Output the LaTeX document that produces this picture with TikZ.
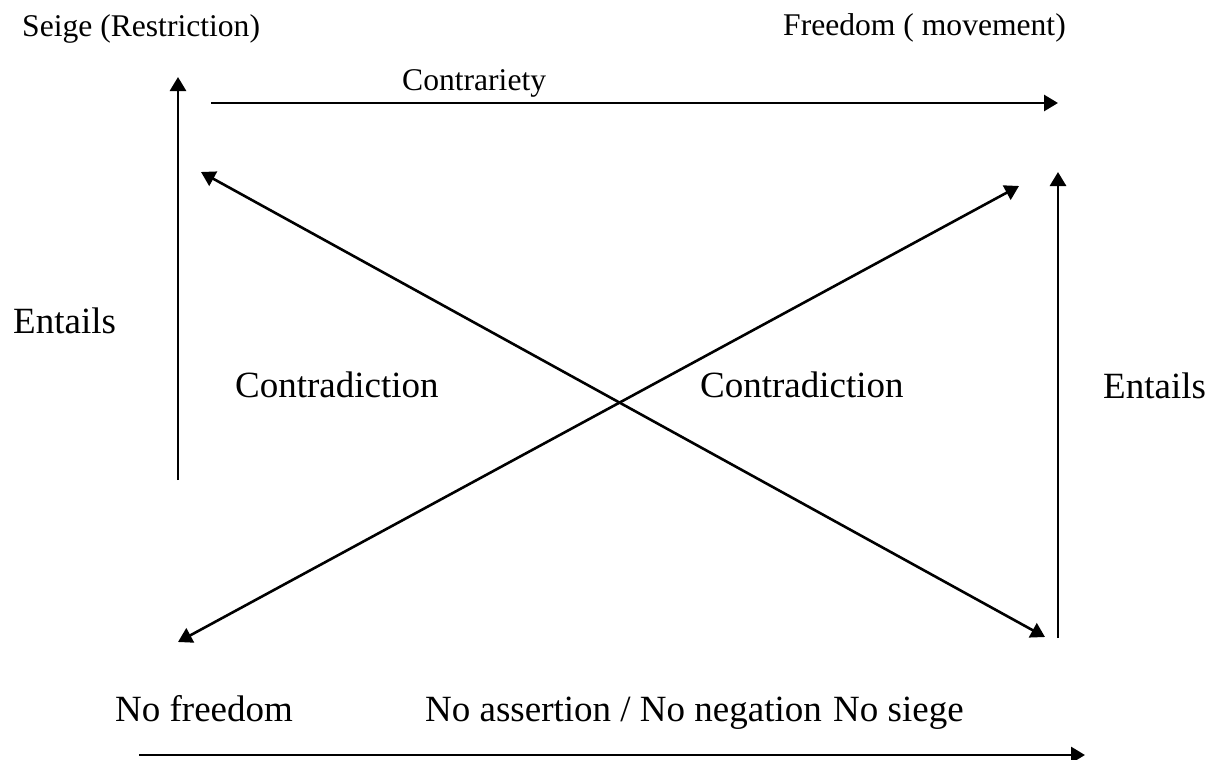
\documentclass[tikz,border=0pt]{standalone}
\usepackage{fontspec}
\setmainfont{Liberation Serif}
\usetikzlibrary{arrows.meta}
\tikzset{
  arr/.style={line width=2.8pt, -{Triangle[length=14pt,width=16pt]}},
  darr/.style={line width=2.6pt, {Triangle[length=14pt,width=16pt]}-{Triangle[length=14pt,width=16pt]}},
  smalltxt/.style={anchor=base west, inner sep=0pt, font=\fontsize{31.6}{38}\selectfont},
  bigtxt/.style={anchor=base west, inner sep=0pt, font=\fontsize{37}{44}\selectfont}
}
\begin{document}
\begin{tikzpicture}[x=1pt,y=-1pt]
\useasboundingbox[fill=white] (0,0) rectangle (1221,760);
% texts
\node[smalltxt] (seige) at (22,37) {Seige (Restriction)};
\node[smalltxt] (freedom) at (783,36) {Freedom ( movement)};
\node[smalltxt] (contrariety) at (402,90) {Contrariety};
\node[bigtxt] (entL) at (13,333) {Entails};
\node[bigtxt] (entR) at (1103,398) {Entails};
\node[bigtxt] (contrL) at (235,397) {Contradiction};
\node[bigtxt] (contrR) at (700,397) {Contradiction};
\node[bigtxt] (nofree) at (115,721) {No freedom};
\node[bigtxt] (noass) at (425,721) {No assertion / No negation};
\node[bigtxt] (nosiege) at (833,721) {No siege};
% coordinates
\coordinate (LVb) at (178,480);
\coordinate (LVt) at (178,77);
\coordinate (Ts) at (211,103);
\coordinate (Te) at (1058,103);
\coordinate (RVb) at (1058,638);
\coordinate (RVt) at (1058,172);
\coordinate (D1a) at (201,172);
\coordinate (D1b) at (1045,637);
\coordinate (D2a) at (178,642);
\coordinate (D2b) at (1019,186);
\coordinate (Bs) at (139,755);
\coordinate (Be) at (1085,755);
% connectors
\draw[arr] (LVb) -- (LVt);
\draw[arr] (Ts) -- (Te);
\draw[arr] (RVb) -- (RVt);
\draw[darr] (D1a) -- (D1b);
\draw[darr] (D2a) -- (D2b);
\draw[arr] (Bs) -- (Be);
\end{tikzpicture}
\end{document}
